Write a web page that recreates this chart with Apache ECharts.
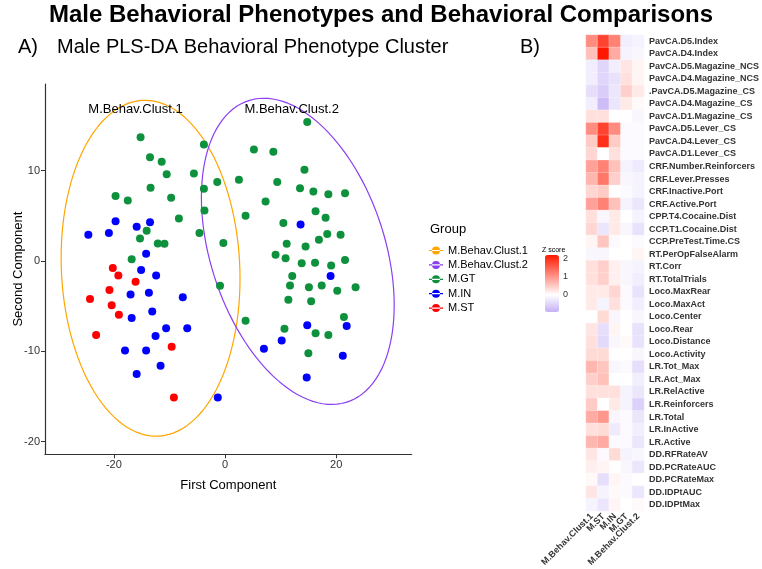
<!DOCTYPE html>
<html>
<head>
<meta charset="utf-8">
<script src="https://cdn.jsdelivr.net/npm/echarts@6/dist/echarts.min.js"></script>
<style>html,body{margin:0;padding:0;background:#fff;}#c{width:762px;height:569px;}</style>
</head>
<body>
<div id="c"></div>
<script>
// ---------- Scatter data (PLS-DA components) ----------
const gtPoints = [
  [-15.2,13.7],[-3.8,12.9],[-13.5,11.5],[-11.4,11.0],[-10.5,9.6],[-5.6,9.7],[-13.4,8.1],[-3.8,8.0],
  [-1.4,8.75],[2.5,9.0],[5.2,12.35],[8.7,12.1],[9.4,8.75],[-19.7,7.2],[-17.5,6.7],[-9.7,7.0],
  [7.3,6.6],[-8.3,4.7],[-3.7,5.6],[3.7,5.0],[-14.1,3.35],[-4.6,3.1],[-15.3,2.5],[-12.1,1.95],
  [-10.9,1.9],[-0.3,2.0],[-16.8,0.2],[9.1,0.7],[-0.9,-2.75],[3.7,-6.6],[14.8,15.4],[14.3,10.1],
  [13.5,8.05],[15.9,7.7],[18.6,7.4],[21.6,7.5],[16.3,5.5],[18.1,4.8],[10.5,4.2],[18.4,3.0],
  [20.8,2.9],[16.9,2.35],[11.1,1.9],[14.5,1.6],[10.9,0.3],[13.8,-0.25],[16.2,-0.2],[19.1,-0.5],
  [21.6,0.1],[12.1,-1.65],[11.7,-2.7],[15.1,-2.9],[17.4,-2.7],[20.2,-3.3],[23.5,-2.9],[11.4,-4.3],
  [15.5,-4.45],[21.4,-6.2],[10.7,-7.5],[16.3,-8.0],[18.6,-8.2],[15.0,-10.2]
];
const inPoints = [
  [-24.6,2.9],[-20.9,3.1],[-19.7,4.4],[-15.9,3.8],[-13.5,4.3],[-14.2,0.8],[-15.1,-1.0],[-12.4,-1.6],
  [-17.0,-3.7],[-13.7,-3.5],[-7.6,-4.0],[-13.1,-5.6],[-16.8,-6.3],[-10.6,-7.45],[-6.8,-7.45],[-12.5,-8.3],
  [-18.0,-9.9],[-14.2,-9.9],[-11.6,-11.6],[-15.9,-12.5],[-1.3,-15.1],[7.0,-9.7],[13.6,4.05],[19.0,-1.65],
  [14.8,-7.1],[21.9,-7.2],[10.2,-8.8],[21.2,-10.5],[14.7,-12.9]
];
const stPoints = [
  [-20.2,-0.77],[-19.2,-1.6],[-16.1,-2.3],[-20.8,-3.2],[-24.3,-4.2],[-20.4,-4.9],[-19.1,-5.95],
  [-23.2,-8.2],[-9.6,-9.5],[-9.2,-15.1]
];
// ellipse parameters (centre, x radius, y coupling, y radius)
const clust1Ellipse = {cx:-13.4, cy:-0.8, ax:16.1, ay:-1.155, by:18.56};
const clust2Ellipse = {cx:13.1, cy:1.07, ax:17.35, ay:-5.96, by:15.87};
const clusterLabels = [['M.Behav.Clust.1',-16.1,16.8],['M.Behav.Clust.2',12.0,16.8]];
const groupNames = ['M.Behav.Clust.1','M.Behav.Clust.2','M.GT','M.IN','M.ST'];
const xTicks = [-20,0,20];
const yTicks = [-20,-10,0,10];

// ---------- Heatmap data ----------
const rowLabels = ['PavCA.D5.Index','PavCA.D4.Index','PavCA.D5.Magazine_NCS','PavCA.D4.Magazine_NCS',
  '.PavCA.D5.Magazine_CS','PavCA.D4.Magazine_CS','PavCA.D1.Magazine_CS','PavCA.D5.Lever_CS',
  'PavCA.D4.Lever_CS','PavCA.D1.Lever_CS','CRF.Number.Reinforcers','CRF.Lever.Presses',
  'CRF.Inactive.Port','CRF.Active.Port','CPP.T4.Cocaine.Dist','CCP.T1.Cocaine.Dist',
  'CCP.PreTest.Time.CS','RT.PerOpFalseAlarm','RT.Corr','RT.TotalTrials','Loco.MaxRear',
  'Loco.MaxAct','Loco.Center','Loco.Rear','Loco.Distance','Loco.Activity','LR.Tot_Max',
  'LR.Act_Max','LR.RelActive','LR.Reinforcers','LR.Total','LR.InActive','LR.Active',
  'DD.RFRateAV','DD.PCRateAUC','DD.PCRateMax','DD.IDPtAUC','DD.IDPtMax'];
const colLabels = ['M.Behav.Clust.1','M.ST','M.IN','M.GT','M.Behav.Clust.2'];
const clust1Z = [1.1,0.6,-0.2,-0.2,-0.4,-0.2,0.3,1.1,0.5,0.4,0.9,0.7,0.4,0.9,0.3,0.4,0.1,-0.1,0.3,0.3,
  0.2,0.2,0,0.25,0.3,0.35,0.7,0.45,0.3,0.5,0.8,0.3,0.7,0.25,0.15,0.05,0.25,-0.15];
const stZ = [1.8,2.25,-0.5,-0.5,-0.6,-0.8,0.3,1.8,2.0,0,1.2,1.3,0.5,1.2,-0.1,-0.3,0.55,-0.1,0.45,0.45,
  0.2,-0.15,0.35,-0.4,-0.45,0.35,0.55,0.6,0.3,0,1.0,0.35,0.8,-0.05,0.1,-0.4,-0.15,-0.3];
const inZ = [1.2,0.8,-0.2,-0.35,-0.3,-0.3,0,1.1,0.5,0.3,0.6,0.45,0,0.6,0.2,0.2,-0.05,0,0.15,0.15,
  0.4,0.3,-0.1,0.1,-0.1,0,-0.1,0,0.3,0.2,-0.1,-0.25,-0.05,0.35,0,0.1,0.05,0.1];
const gtZ = [-0.2,-0.15,0.25,0.3,0.45,0.2,0,-0.05,-0.05,-0.05,-0.15,-0.1,-0.05,-0.15,0,-0.1,0,0,-0.1,-0.1,
  -0.05,-0.05,0,0,0.05,0,-0.05,0,-0.15,-0.15,-0.05,-0.05,-0.05,-0.15,-0.1,-0.05,-0.05,0];
const clust2Z = [-0.15,-0.1,0.1,0.1,0.2,0.05,-0.1,-0.05,-0.05,-0.05,-0.25,-0.15,-0.15,-0.3,-0.15,-0.35,-0.05,0.1,-0.15,-0.2,
  -0.35,-0.2,-0.1,-0.35,-0.35,-0.1,-0.4,-0.2,-0.3,-0.55,-0.3,-0.2,-0.3,-0.1,-0.3,0,-0.3,0.05];
const zMin = -0.95, zMax = 2.22;
const zTicks = [0,1,2];

// ---------- build ----------
function ellipsePath(e){
  const pts = [];
  for (let i = 0; i <= 120; i++){
    const t = i/120*2*Math.PI;
    pts.push([e.cx + e.ax*Math.cos(t), e.cy + e.ay*Math.cos(t) + e.by*Math.sin(t)]);
  }
  return pts;
}
// colour ramp: lavender -> white (0) -> red
function hex(c){return [parseInt(c.substr(1,2),16),parseInt(c.substr(3,2),16),parseInt(c.substr(5,2),16)];}
function mix(a,b,f){const A=hex(a),B=hex(b);return 'rgb('+A.map((v,i)=>Math.round(v+(B[i]-v)*f)).join(',')+')';}
const lowC='#c4b0f6', midC='#ffffff', highC='#ff1800';
const ramp=[];
for(let i=0;i<=40;i++){const v=zMin+(zMax-zMin)*i/40; ramp.push(v<0?mix(midC,lowC,v/zMin):mix(midC,highC,v/zMax));}

const colArrays=[clust1Z,stZ,inZ,gtZ,clust2Z];
const heatData=[];
colArrays.forEach((arr,ci)=>arr.forEach((v,ri)=>heatData.push([ci,ri,v])));

const font="'Liberation Sans', Arial, sans-serif";
const chart = echarts.init(document.getElementById('c'), null, {renderer:'canvas'});
const legendIcon='path://M0,4.4L14,4.4L14,5.6L0,5.6Z M7,1A4,4 0 1,0 7,9A4,4 0 1,0 7,1Z';
const ts=(size,weight)=>({fontSize:size,fontWeight:weight||'normal',color:'#000',fontFamily:font});
const option = {
  backgroundColor:'#fff',
  animation:false,
  textStyle:{fontFamily:font},
  title:[
    {text:'Male Behavioral Phenotypes and Behavioral Comparisons',left:'center',top:3,padding:0,textStyle:ts(24,'bold')},
    {text:'A)',left:18,top:37,padding:0,textStyle:ts(20)},
    {text:'Male PLS-DA Behavioral Phenotype Cluster',left:57,top:37,padding:0,textStyle:ts(20)},
    {text:'B)',left:520,top:37,padding:0,textStyle:ts(20)},
    {text:'Group',left:430,top:223,padding:0,textStyle:ts(13)},
    {text:'Z score',left:542,top:247,padding:0,textStyle:ts(7)}
  ],
  legend:{
    orient:'vertical',left:424,top:240,itemWidth:14,itemHeight:8,itemGap:3.4,
    data:groupNames.map(n=>({name:n,icon:legendIcon})),
    textStyle:{fontSize:11,color:'#000',fontFamily:font},selectedMode:false
  },
  grid:[
    {left:45,top:84,width:366.7,height:370.3},
    {left:586,top:35,width:62.5,height:477.7},
    {left:545,top:255,width:14,height:57}
  ],
  xAxis:[
    {type:'value',gridIndex:0,min:-32.4,max:33.6,splitLine:{show:false},
     axisLine:{onZero:false,lineStyle:{color:'#333',width:1.2}},
     axisTick:{length:4,customValues:xTicks,lineStyle:{color:'#333'}},
     axisLabel:{customValues:xTicks,fontSize:11,color:'#333',margin:5},
     name:'First Component',nameLocation:'middle',nameGap:25,nameTextStyle:{fontSize:13,color:'#000'}},
    {type:'category',gridIndex:1,data:colLabels,axisLine:{show:false},axisTick:{show:false},
     axisLabel:{rotate:45,fontSize:9,fontWeight:'bold',color:'#333',margin:4,interval:0}},
    {type:'value',gridIndex:2,show:false,min:0,max:1}
  ],
  yAxis:[
    {type:'value',gridIndex:0,min:-21.4,max:19.6,splitLine:{show:false},
     axisLine:{onZero:false,lineStyle:{color:'#333',width:1.2}},
     axisTick:{length:4,customValues:yTicks,lineStyle:{color:'#333'}},
     axisLabel:{customValues:yTicks,fontSize:11,color:'#333',margin:5},
     name:'Second Component',nameLocation:'middle',nameGap:20,nameMoveOverlap:false,
     nameTextStyle:{fontSize:13,color:'#000'}},
    {type:'category',gridIndex:1,data:rowLabels,inverse:true,position:'right',
     axisLine:{show:false},axisTick:{show:false},
     axisLabel:{fontSize:9,fontWeight:'bold',color:'#333',margin:5,interval:0}},
    {type:'value',gridIndex:2,min:zMin,max:zMax,position:'right',splitLine:{show:false},
     axisLine:{show:false},axisTick:{show:false},
     axisLabel:{customValues:zTicks,fontSize:9,color:'#333',margin:4}}
  ],
  visualMap:{
    type:'continuous',min:zMin,max:zMax,seriesIndex:5,calculable:false,
    left:545,top:255,itemWidth:14,itemHeight:57,padding:0,text:null,showLabel:false,
    inRange:{color:ramp}
  },
  series:[
    {name:'M.Behav.Clust.1',type:'line',xAxisIndex:0,yAxisIndex:0,data:ellipsePath(clust1Ellipse),
     showSymbol:false,symbol:'none',color:'#ffa500',lineStyle:{width:1.2,color:'#ffa500'},z:2},
    {name:'M.Behav.Clust.2',type:'line',xAxisIndex:0,yAxisIndex:0,data:ellipsePath(clust2Ellipse),
     showSymbol:false,symbol:'none',color:'#8b3ff2',lineStyle:{width:1.2,color:'#8b3ff2'},z:2},
    {name:'M.GT',type:'scatter',data:gtPoints,symbolSize:8,color:'#0e913d',itemStyle:{opacity:1},z:3},
    {name:'M.IN',type:'scatter',data:inPoints,symbolSize:8,color:'#0000ff',itemStyle:{opacity:1},z:3},
    {name:'M.ST',type:'scatter',data:stPoints,symbolSize:8,color:'#ff0000',itemStyle:{opacity:1},z:3},
    {name:'heat',type:'heatmap',xAxisIndex:1,yAxisIndex:1,data:heatData,
     itemStyle:{borderColor:'rgba(255,255,255,0.5)',borderWidth:0.5}},
    {name:'labels',type:'scatter',xAxisIndex:0,yAxisIndex:0,symbolSize:0,silent:true,
     itemStyle:{opacity:1},
     data:clusterLabels.map(l=>({name:l[0],value:[l[1],l[2]]})),
     label:{show:true,position:'inside',formatter:p=>p.name,fontSize:13,color:'#000',
            textBorderWidth:0,opacity:1,fontFamily:font}}
  ]
};
chart.setOption(option);
</script>
</body>
</html>
